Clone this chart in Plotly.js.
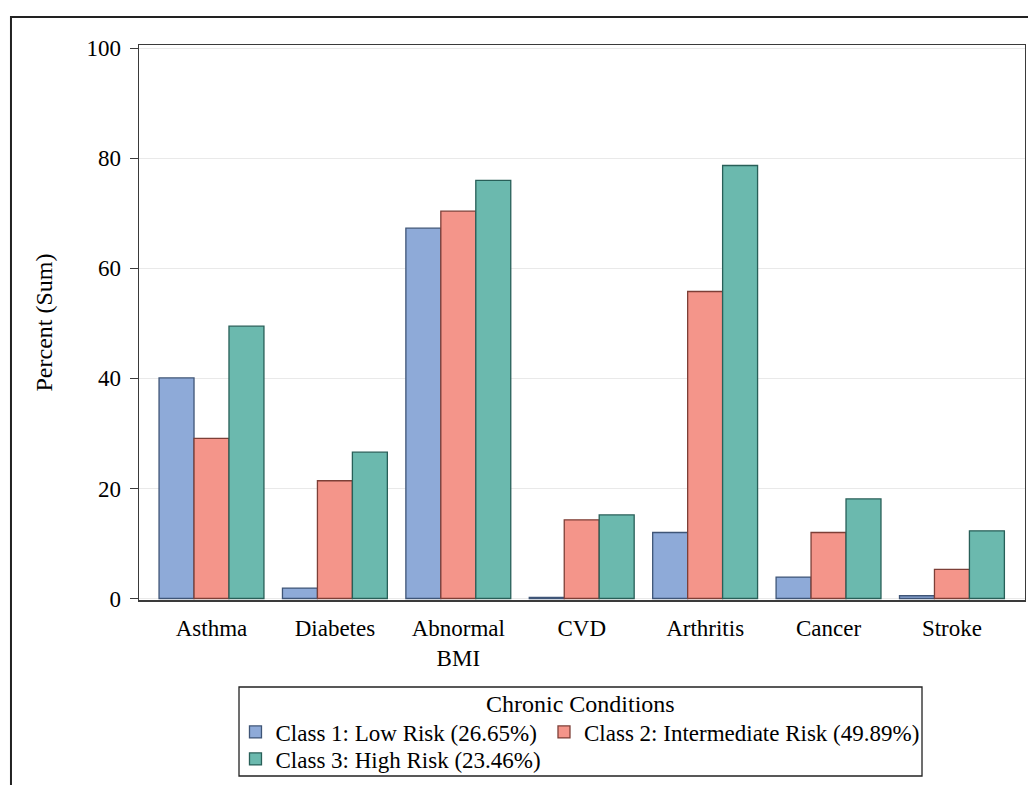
<!DOCTYPE html>
<html>
<head>
<meta charset="utf-8">
<script src="https://cdn.plot.ly/plotly-3.0.1.min.js"></script>
<style>html,body{margin:0;padding:0;background:#fff;}#chart{width:1028px;height:785px;}</style>
</head>
<body>
<div id="chart"></div>
<script>
// ---- data ----
const categories = ['Asthma', 'Diabetes', 'Abnormal<br>BMI', 'CVD', 'Arthritis', 'Cancer', 'Stroke'];
const class1 = [40.1, 1.9, 67.3, 0.2, 12.0, 3.9, 0.5];
const class2 = [29.1, 21.4, 70.4, 14.3, 55.8, 12.0, 5.3];
const class3 = [49.5, 26.6, 76.0, 15.2, 78.7, 18.1, 12.3];
const seriesNames = ['Class 1: Low Risk (26.65%)', 'Class 2: Intermediate Risk (49.89%)', 'Class 3: High Risk (23.46%)'];
const yTicks = [0, 20, 40, 60, 80, 100];
const legendTitle = 'Chronic Conditions';
const yTitle = 'Percent (Sum)';

const FONT = 'Liberation Serif';
const fills = ['#8eaad8', '#f4958a', '#6bb9ae'];
const lines = ['#3f5577', '#7d3f37', '#285f58'];
const legends = ['legend', 'legend2', 'legend3'];

const values = [class1, class2, class3];
const traces = values.map((v, i) => ({
  type: 'bar',
  x: categories,
  y: v,
  name: seriesNames[i],
  legend: legends[i],
  marker: {color: fills[i], line: {color: lines[i], width: 1.3}},
  hoverinfo: 'skip'
}));

function legendAt(x, y) {
  return {
    orientation: 'v', x: x, xanchor: 'left', y: y, yanchor: 'top',
    bgcolor: 'rgba(0,0,0,0)', borderwidth: 0,
    font: {family: FONT, size: 23, color: '#000'}
  };
}

const layout = {
  width: 1028, height: 785,
  margin: {l: 139, r: 3, t: 45, b: 185, autoexpand: false},
  paper_bgcolor: '#ffffff', plot_bgcolor: '#ffffff',
  font: {family: FONT, color: '#000', size: 23},
  barmode: 'group', bargap: 0.15, bargroupgap: 0,
  xaxis: {
    type: 'category', range: [-0.5875, 6.592],
    showline: true, linecolor: '#3a3a3a', linewidth: 1.5, mirror: true,
    showgrid: false, ticks: '', ticklabelstandoff: 7,
    tickfont: {family: FONT, size: 23, color: '#000'}, automargin: false
  },
  yaxis: {
    range: [-0.27, 100.6], tickvals: yTicks, ticktext: yTicks.map(String),
    showline: true, linecolor: '#3a3a3a', linewidth: 1.3, mirror: true,
    showgrid: true, gridcolor: '#e9e9e9', gridwidth: 1, zeroline: false,
    ticks: 'outside', ticklen: 8, tickwidth: 1.3, tickcolor: '#3a3a3a', ticklabelstandoff: 4,
    tickfont: {family: FONT, size: 23, color: '#000'}, automargin: false,
    title: {text: yTitle, standoff: 27, font: {family: FONT, size: 24, color: '#000'}}
  },
  showlegend: true,
  legend: legendAt(0.1089, -0.1991),
  legend2: legendAt(0.4571, -0.1991),
  legend3: legendAt(0.1089, -0.2477),
  annotations: [{
    text: legendTitle, xref: 'paper', yref: 'paper', x: 0.4983, y: -0.1874,
    xanchor: 'center', yanchor: 'middle', showarrow: false,
    font: {family: FONT, size: 24, color: '#000'}
  }],
  shapes: [
    {type: 'rect', xref: 'paper', yref: 'paper', x0: 0.11287, x1: 0.88375, y0: -0.15676, y1: -0.31712,
     line: {color: '#222', width: 1.3}, fillcolor: 'rgba(0,0,0,0)'},
    {type: 'rect', xref: 'paper', yref: 'paper', x0: -0.1445, x1: 1.02, y0: 1.0505, y1: -0.40,
     line: {color: '#222', width: 2}, fillcolor: 'rgba(0,0,0,0)'}
  ]
};

Plotly.newPlot('chart', traces, layout, {staticPlot: true, displayModeBar: false});
</script>
</body>
</html>
